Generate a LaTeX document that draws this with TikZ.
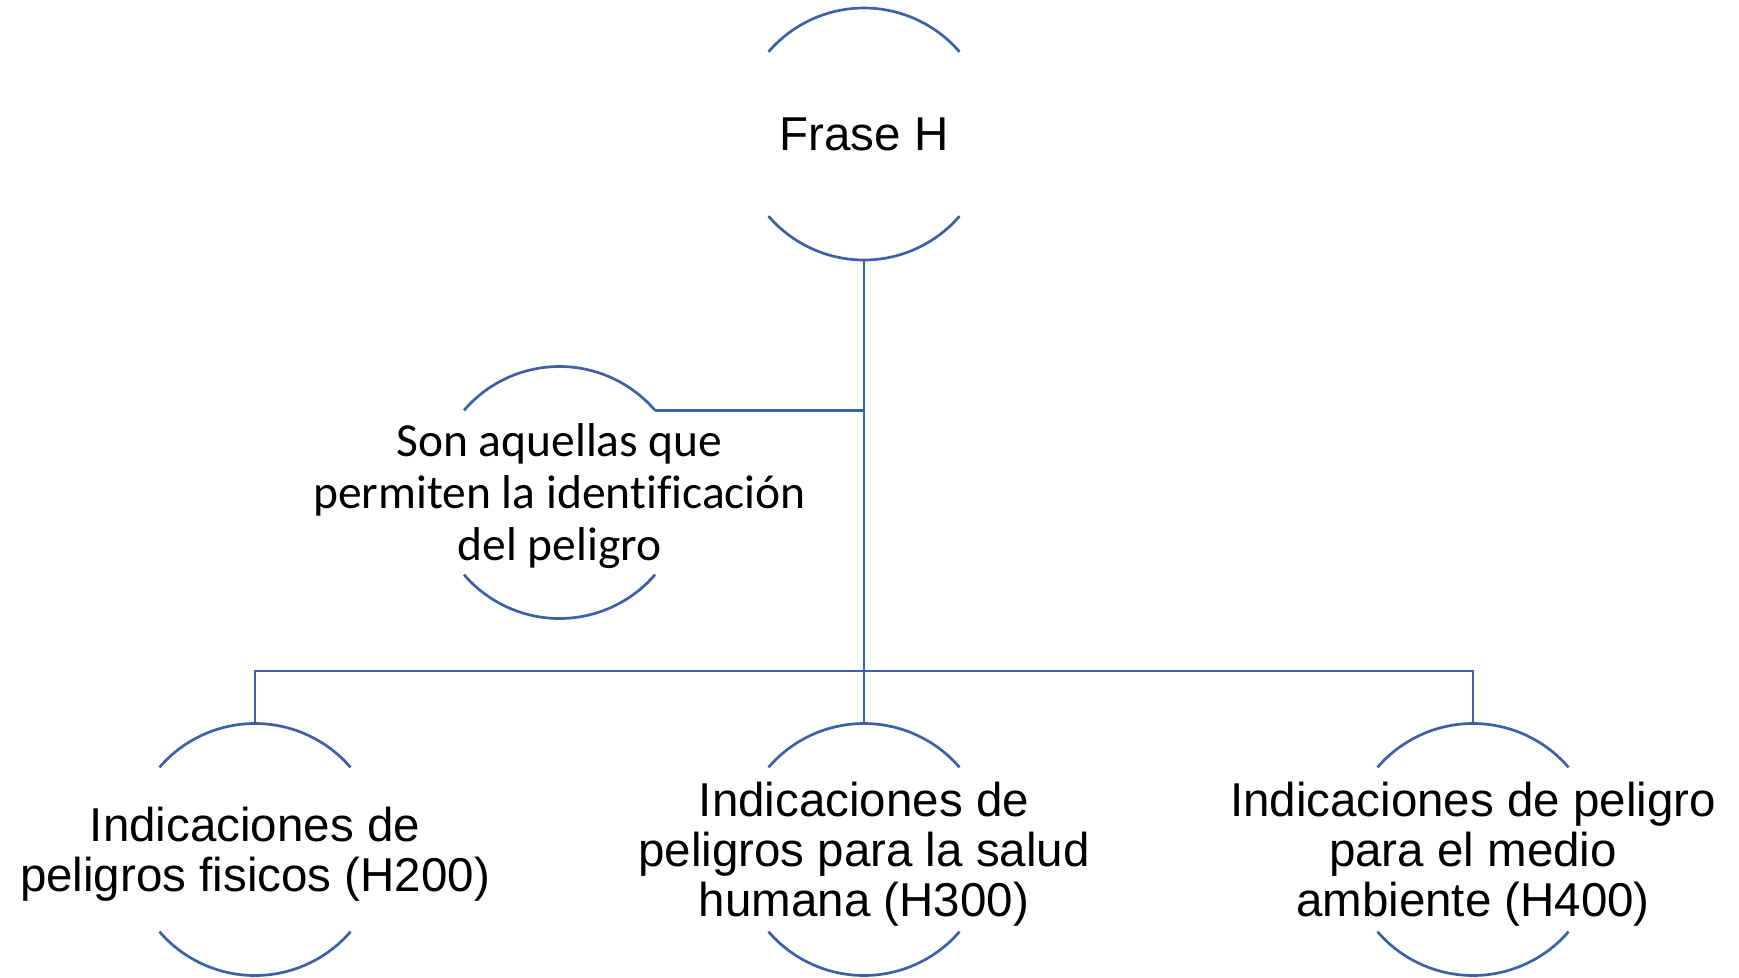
\documentclass[tikz,border=0pt]{standalone}
\usepackage{fontspec}
\setmainfont{Liberation Sans}
\newfontfamily\calibri[Ligatures=NoCommon]{Carlito}
\definecolor{azul}{RGB}{62,96,164}

\begin{document}
\begin{tikzpicture}[x = 1pt, y = 1pt, line width = 2.7pt,
                        caja/.style = {rectangle, minimum height = 252pt, inner sep = 0pt, align = center,
                                       text depth = 0pt, font = \fontsize{47.5}{50}\selectfont},
                        nota/.style = {caja, font = \calibri\fontsize{47.5}{52}\selectfont},
                        enlace/.style = {draw = azul},
                        arco/.style = {draw = azul}]
        \useasboundingbox (0,0) rectangle (1739,-977);

        \node [caja] (fraseH) at (864,-134) {Frase H};
        \node [nota] (def) at (559.5,-492.5) {Son aquellas que\\permiten la identificación\\del peligro};
        \node [caja] (fis) at (255,-849.5) {Indicaciones de\\peligros fisicos (H200)};
        \node [caja] (sal) at (864,-849.5) {Indicaciones de\\peligros para la salud\\humana (H300)};
        \node [caja] (amb) at (1473,-849.5) {Indicaciones de peligro\\para el medio\\ambiente (H400)};

        % arcos de arriba y de abajo
        \foreach \n in {fraseH, def, fis, sal, amb} {
            \draw [arco] ([shift={(40.7:126)}]\n.center) arc [start angle = 40.7, end angle = 139.3, radius = 126];
            \draw [arco] ([shift={(220.7:126)}]\n.center) arc [start angle = 220.7, end angle = 319.3, radius = 126];
        }

        \coordinate (defR) at ([shift={(40.7:126)}]def.center);
        \coordinate (bus) at (864,-671);

        \draw [enlace] (fraseH.south) -- (sal.north);
        \draw [enlace] (defR) -- (defR -| fraseH.south);
        \draw [enlace] (fis.north) |- (bus) -| (amb.north);
\end{tikzpicture}
\end{document}
